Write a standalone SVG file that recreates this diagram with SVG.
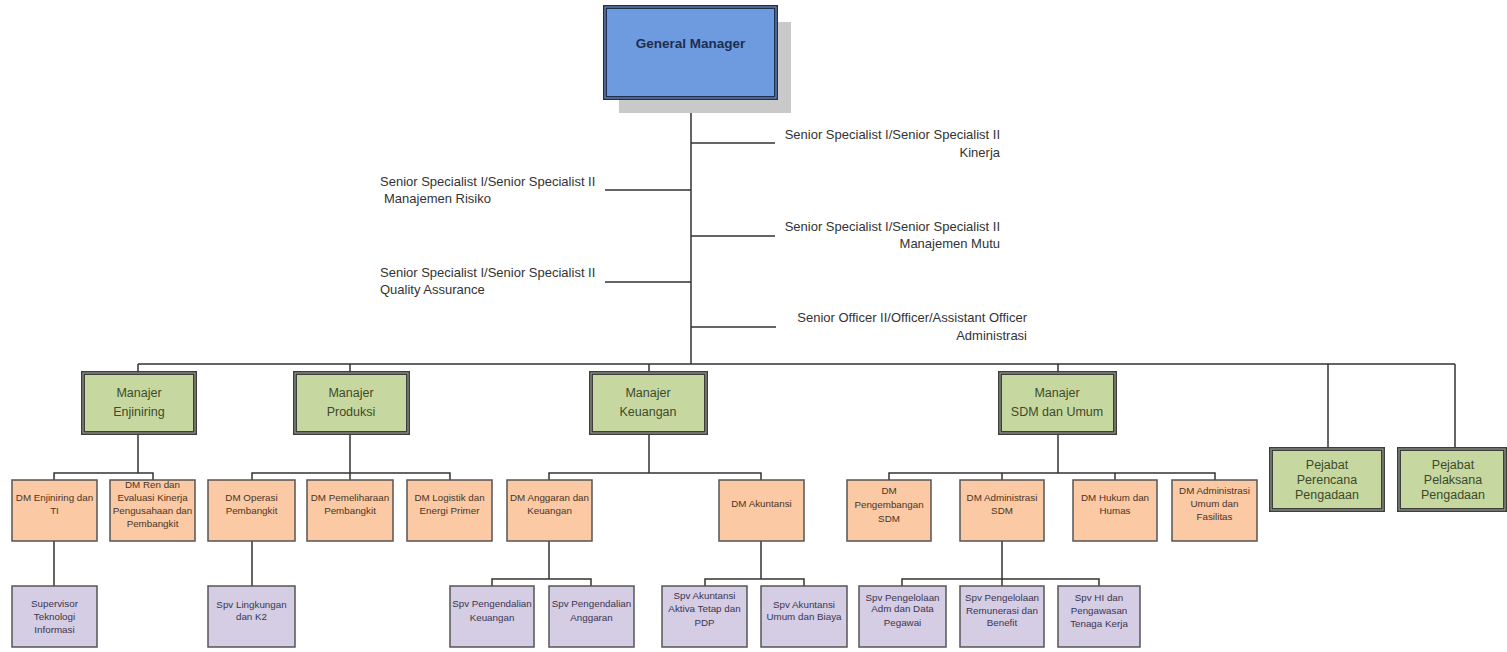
<svg xmlns="http://www.w3.org/2000/svg" width="1507" height="652" viewBox="0 0 1507 652">
<style>
.bg{fill:#ffffff}
.conn{fill:none;stroke:#333333;stroke-width:1.5}
.mgr{fill:#c6d8a0;stroke:#3e3e3e;stroke-width:4}
.mgrin{fill:none;stroke:#a0a890;stroke-width:1}
.dm{fill:#fbc9a3;stroke:#555555;stroke-width:1.5}
.spv{fill:#d4cde4;stroke:#555555;stroke-width:1.5}
.t-staff{font-family:"Liberation Sans",Arial,sans-serif;font-size:13px;fill:#333333}
.t-mgr{font-family:"Liberation Sans",Arial,sans-serif;font-size:12.5px;fill:#3d4a2a;text-anchor:middle}
.t-dm{font-family:"Liberation Sans",Arial,sans-serif;font-size:9.8px;fill:#4a3526;text-anchor:middle}
.t-spv{font-family:"Liberation Sans",Arial,sans-serif;font-size:9.8px;fill:#3d3550;text-anchor:middle}
</style>
<rect class="bg" x="0" y="0" width="1507" height="652"/>

<g id="connectors">
<path class="conn" d="M691 98 V364"/>
<path class="conn" d="M691 143 H775 M605 190 H691 M691 236 H775 M605 282 H691 M691 327 H776"/>
<path class="conn" d="M138 364 H1455 M138 364 V373 M350 364 V373 M649 364 V373 M1058 364 V373 M1328 364 V449 M1455 364 V449"/>
<path class="conn" d="M138 433 V473 M54 480 V473 H153 V480"/>
<path class="conn" d="M350 433 V480 M252 480 V473 H450 V480"/>
<path class="conn" d="M649 433 V473 M549 480 V473 H761 V480"/>
<path class="conn" d="M1058 433 V473 M889 480 V473 H1215 V480 M1002 473 V480 M1115 473 V480"/>
<path class="conn" d="M54 541 V586 M252 541 V586"/>
<path class="conn" d="M549 541 V579 M492 586 V579 H591 V586"/>
<path class="conn" d="M761 541 V579 M705 586 V579 H804 V586"/>
<path class="conn" d="M1002 541 V586 M902 586 V579 H1099 V586"/>
</g>

<g id="gm">
<rect x="619" y="22" width="172" height="91" fill="#c9c9c9"/>
<rect x="605" y="7" width="171" height="91" fill="#6e9be0" stroke="#1f2f4f" stroke-width="4"/>
<rect x="605" y="7" width="171" height="91" fill="none" stroke="#7a9ad0" stroke-width="1"/>
<text x="690.5" y="48" font-family="Liberation Sans,Arial,sans-serif" font-size="13.5" font-weight="bold" fill="#1c2e50" text-anchor="middle">General Manager</text>
</g>

<g id="staff-kinerja">
<text class="t-staff" x="1000" y="139" text-anchor="end">Senior Specialist I/Senior Specialist II</text>
<text class="t-staff" x="1000" y="157" text-anchor="end">Kinerja</text>
</g>
<g id="staff-risiko">
<text class="t-staff" x="380" y="186">Senior Specialist I/Senior Specialist II</text>
<text class="t-staff" x="384" y="203">Manajemen Risiko</text>
</g>
<g id="staff-mutu">
<text class="t-staff" x="1000" y="231" text-anchor="end">Senior Specialist I/Senior Specialist II</text>
<text class="t-staff" x="1000" y="248" text-anchor="end">Manajemen Mutu</text>
</g>
<g id="staff-qa">
<text class="t-staff" x="380" y="277">Senior Specialist I/Senior Specialist II</text>
<text class="t-staff" x="380" y="294">Quality Assurance</text>
</g>
<g id="staff-adm">
<text class="t-staff" x="1027" y="322" text-anchor="end">Senior Officer II/Officer/Assistant Officer</text>
<text class="t-staff" x="1027" y="340" text-anchor="end">Administrasi</text>
</g>

<g id="mgr-enjiniring">
<rect class="mgr" x="83" y="373" width="112" height="60"/><rect class="mgrin" x="83" y="373" width="112" height="60"/>
<text class="t-mgr" x="139" y="397">Manajer</text><text class="t-mgr" x="139" y="416">Enjiniring</text>
</g>
<g id="mgr-produksi">
<rect class="mgr" x="295" y="373" width="113" height="60"/><rect class="mgrin" x="295" y="373" width="113" height="60"/>
<text class="t-mgr" x="351" y="397">Manajer</text><text class="t-mgr" x="351" y="416">Produksi</text>
</g>
<g id="mgr-keuangan">
<rect class="mgr" x="591" y="373" width="115" height="60"/><rect class="mgrin" x="591" y="373" width="115" height="60"/>
<text class="t-mgr" x="648" y="397">Manajer</text><text class="t-mgr" x="648" y="416">Keuangan</text>
</g>
<g id="mgr-sdm">
<rect class="mgr" x="1000" y="373" width="115" height="60"/><rect class="mgrin" x="1000" y="373" width="115" height="60"/>
<text class="t-mgr" x="1057" y="397">Manajer</text><text class="t-mgr" x="1057" y="416">SDM dan Umum</text>
</g>
<g id="pejabat-perencana">
<rect class="mgr" x="1271" y="449" width="112" height="61"/><rect class="mgrin" x="1271" y="449" width="112" height="61"/>
<text class="t-mgr" x="1327" y="469">Pejabat</text><text class="t-mgr" x="1327" y="484">Perencana</text><text class="t-mgr" x="1327" y="499">Pengadaan</text>
</g>
<g id="pejabat-pelaksana">
<rect class="mgr" x="1399" y="449" width="106" height="61"/><rect class="mgrin" x="1399" y="449" width="106" height="61"/>
<text class="t-mgr" x="1453" y="469">Pejabat</text><text class="t-mgr" x="1453" y="484">Pelaksana</text><text class="t-mgr" x="1453" y="499">Pengadaan</text>
</g>

<g id="dm-enjiniring-ti">
<rect class="dm" x="12" y="480" width="85" height="61"/>
<text class="t-dm" x="54.5" y="500.5">DM Enjiniring dan</text><text class="t-dm" x="54.5" y="513.5">TI</text>
</g>
<g id="dm-ren">
<rect class="dm" x="110" y="480" width="85" height="61"/>
<text class="t-dm" x="152.5" y="488">DM Ren dan</text><text class="t-dm" x="152.5" y="500.5">Evaluasi Kinerja</text><text class="t-dm" x="152.5" y="514">Pengusahaan dan</text><text class="t-dm" x="152.5" y="527">Pembangkit</text>
</g>
<g id="dm-operasi">
<rect class="dm" x="208" y="480" width="87" height="61"/>
<text class="t-dm" x="251.5" y="500.5">DM Operasi</text><text class="t-dm" x="251.5" y="513.5">Pembangkit</text>
</g>
<g id="dm-pemeliharaan">
<rect class="dm" x="307" y="480" width="86" height="61"/>
<text class="t-dm" x="350" y="500.5">DM Pemeliharaan</text><text class="t-dm" x="350" y="513.5">Pembangkit</text>
</g>
<g id="dm-logistik">
<rect class="dm" x="407" y="480" width="85" height="61"/>
<text class="t-dm" x="449.5" y="500.5">DM Logistik dan</text><text class="t-dm" x="449.5" y="513.5">Energi Primer</text>
</g>
<g id="dm-anggaran">
<rect class="dm" x="507" y="480" width="85" height="61"/>
<text class="t-dm" x="549.5" y="500.5">DM Anggaran dan</text><text class="t-dm" x="549.5" y="513.5">Keuangan</text>
</g>
<g id="dm-akuntansi">
<rect class="dm" x="719" y="480" width="85" height="61"/>
<text class="t-dm" x="761.5" y="506.5">DM Akuntansi</text>
</g>
<g id="dm-pengembangan-sdm">
<rect class="dm" x="847" y="480" width="84" height="61"/>
<text class="t-dm" x="889" y="493.5">DM</text><text class="t-dm" x="889" y="507.5">Pengembangan</text><text class="t-dm" x="889" y="521.5">SDM</text>
</g>
<g id="dm-administrasi-sdm">
<rect class="dm" x="960" y="480" width="84" height="61"/>
<text class="t-dm" x="1002" y="500.5">DM Administrasi</text><text class="t-dm" x="1002" y="513.5">SDM</text>
</g>
<g id="dm-hukum">
<rect class="dm" x="1073" y="480" width="84" height="61"/>
<text class="t-dm" x="1115" y="500.5">DM Hukum dan</text><text class="t-dm" x="1115" y="513.5">Humas</text>
</g>
<g id="dm-administrasi-umum">
<rect class="dm" x="1172" y="480" width="85" height="61"/>
<text class="t-dm" x="1214.5" y="493.5">DM Administrasi</text><text class="t-dm" x="1214.5" y="506.5">Umum dan</text><text class="t-dm" x="1214.5" y="520">Fasilitas</text>
</g>

<g id="spv-ti">
<rect class="spv" x="12" y="586" width="85" height="61"/>
<text class="t-spv" x="54.5" y="606.5">Supervisor</text><text class="t-spv" x="54.5" y="619.5">Teknologi</text><text class="t-spv" x="54.5" y="632.5">Informasi</text>
</g>
<g id="spv-lingkungan">
<rect class="spv" x="208" y="586" width="87" height="61"/>
<text class="t-spv" x="251.5" y="607.5">Spv Lingkungan</text><text class="t-spv" x="251.5" y="620">dan K2</text>
</g>
<g id="spv-pengendalian-keuangan">
<rect class="spv" x="450" y="586" width="84" height="61"/>
<text class="t-spv" x="492" y="607">Spv Pengendalian</text><text class="t-spv" x="492" y="620.5">Keuangan</text>
</g>
<g id="spv-pengendalian-anggaran">
<rect class="spv" x="549" y="586" width="85" height="61"/>
<text class="t-spv" x="591.5" y="607">Spv Pengendalian</text><text class="t-spv" x="591.5" y="620.5">Anggaran</text>
</g>
<g id="spv-akuntansi-aktiva">
<rect class="spv" x="662" y="586" width="85" height="61"/>
<text class="t-spv" x="704.5" y="599">Spv Akuntansi</text><text class="t-spv" x="704.5" y="612">Aktiva Tetap dan</text><text class="t-spv" x="704.5" y="625.5">PDP</text>
</g>
<g id="spv-akuntansi-umum">
<rect class="spv" x="761" y="586" width="86" height="61"/>
<text class="t-spv" x="804" y="607.5">Spv Akuntansi</text><text class="t-spv" x="804" y="620">Umum dan Biaya</text>
</g>
<g id="spv-pengelolaan-adm">
<rect class="spv" x="859" y="586" width="87" height="61"/>
<text class="t-spv" x="902.5" y="600.5">Spv Pengelolaan</text><text class="t-spv" x="902.5" y="612">Adm dan Data</text><text class="t-spv" x="902.5" y="625.5">Pegawai</text>
</g>
<g id="spv-remunerasi">
<rect class="spv" x="960" y="586" width="84" height="61"/>
<text class="t-spv" x="1002" y="600.5">Spv Pengelolaan</text><text class="t-spv" x="1002" y="613.5">Remunerasi dan</text><text class="t-spv" x="1002" y="625.5">Benefit</text>
</g>
<g id="spv-hi">
<rect class="spv" x="1058" y="586" width="82" height="61"/>
<text class="t-spv" x="1099" y="600.5">Spv HI dan</text><text class="t-spv" x="1099" y="613.5">Pengawasan</text><text class="t-spv" x="1099" y="626.5">Tenaga Kerja</text>
</g>
</svg>
